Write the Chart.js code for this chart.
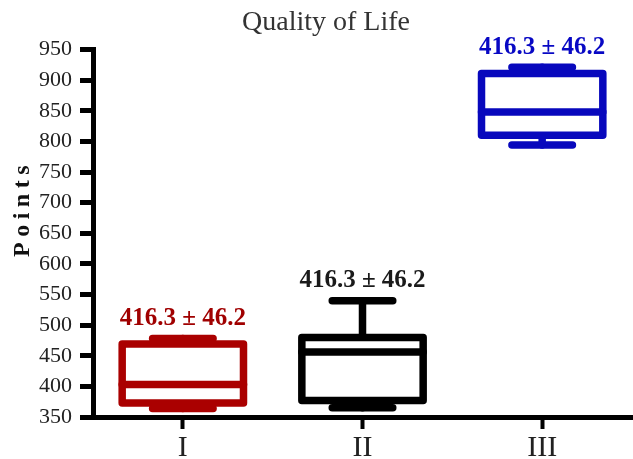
<!DOCTYPE html>
<html>
<head>
<meta charset="utf-8">
<script src="https://cdn.jsdelivr.net/npm/chart.js@4"></script>
<style>
  html, body { margin: 0; padding: 0; background: #ffffff; }
  canvas { display: block; }
</style>
</head>
<body>
<canvas id="chart" width="633" height="459"></canvas>
<script>
// Groups and five-number summaries (points)
const groups = ['I', 'II', 'III'];
const whiskerMin = [364, 365, 794];
const quartile1 = [373, 377, 810];
const medians = [403, 456, 848];
const quartile3 = [469, 480, 911];
const whiskerMax = [478, 540, 921];
const summaryLabels = ['416.3 ± 46.2', '416.3 ± 46.2', '416.3 ± 46.2'];
const boxColors = ['#aa0000', '#000000', '#0808bd'];
const labelColors = ['#a00000', '#1a1a1a', '#0808c4'];

// Value axis range
const yMin = 350;
const yMax = 950;
const yStep = 50;

const SERIF = '"Liberation Serif", "Times New Roman", serif';
const LINE_W = 7.5;

// Draws whiskers, caps, box outline, median and the summary text for each group
const boxPlotPlugin = {
  id: 'boxPlot',
  afterDatasetsDraw(chart) {
    const ctx = chart.ctx;
    const y = chart.scales.y;
    const meta = chart.getDatasetMeta(0);
    ctx.save();
    ctx.lineWidth = LINE_W;
    ctx.lineJoin = 'round';
    ctx.lineCap = 'round';
    meta.data.forEach((bar, i) => {
      const cx = bar.x;
      const w = bar.width;
      const left = cx - w / 2 + LINE_W / 2;
      const right = cx + w / 2 - LINE_W / 2;
      const capHalf = w * 0.264 - LINE_W / 2;
      const pMax = y.getPixelForValue(whiskerMax[i]);
      const pQ3 = y.getPixelForValue(quartile3[i]);
      const pMed = y.getPixelForValue(medians[i]);
      const pQ1 = y.getPixelForValue(quartile1[i]);
      const pMin = y.getPixelForValue(whiskerMin[i]);
      ctx.strokeStyle = boxColors[i];

      // whiskers
      ctx.beginPath();
      ctx.moveTo(cx, pQ3); ctx.lineTo(cx, pMax);
      ctx.moveTo(cx, pQ1); ctx.lineTo(cx, pMin);
      ctx.stroke();

      // caps
      ctx.beginPath();
      ctx.moveTo(cx - capHalf, pMax); ctx.lineTo(cx + capHalf, pMax);
      ctx.moveTo(cx - capHalf, pMin); ctx.lineTo(cx + capHalf, pMin);
      ctx.stroke();

      // box
      ctx.fillStyle = '#ffffff';
      ctx.fillRect(left, pQ3, right - left, pQ1 - pQ3);
      ctx.strokeRect(left, pQ3, right - left, pQ1 - pQ3);

      // median
      ctx.beginPath();
      ctx.moveTo(left, pMed); ctx.lineTo(right, pMed);
      ctx.stroke();

      // summary text above the upper cap
      ctx.font = 'bold 25px ' + SERIF;
      ctx.fillStyle = labelColors[i];
      ctx.textAlign = 'center';
      ctx.textBaseline = 'alphabetic';
      ctx.fillText(summaryLabels[i], cx, pMax - LINE_W / 2 - 10);
    });
    ctx.restore();
  }
};

// Letter-spaced vertical axis title
const axisTitlePlugin = {
  id: 'axisTitle',
  afterDraw(chart) {
    const ctx = chart.ctx;
    const area = chart.chartArea;
    const spacing = 5.5;
    ctx.save();
    ctx.translate(29, (area.top + area.bottom) / 2 - 22);
    ctx.rotate(-Math.PI / 2);
    ctx.font = 'bold 24px ' + SERIF;
    ctx.letterSpacing = spacing + 'px';
    ctx.fillStyle = '#111111';
    ctx.textAlign = 'center';
    ctx.textBaseline = 'alphabetic';
    ctx.fillText('Points', spacing / 2, 0);
    ctx.restore();
  }
};

new Chart(document.getElementById('chart'), {
  type: 'bar',
  data: {
    labels: groups,
    datasets: [{
      label: 'Interquartile range',
      data: groups.map((g, i) => [quartile1[i], quartile3[i]]),
      backgroundColor: 'rgba(0,0,0,0)',
      borderWidth: 0,
      barPercentage: 0.717,
      categoryPercentage: 1
    }]
  },
  options: {
    responsive: false,
    devicePixelRatio: 1,
    animation: false,
    events: [],
    layout: { padding: { left: 20, right: 1, top: 0, bottom: 0 } },
    plugins: {
      legend: { display: false },
      tooltip: { enabled: false },
      title: {
        display: true,
        text: 'Quality of Life',
        color: '#333333',
        font: { family: SERIF, size: 28, weight: 'normal', lineHeight: 1.2 },
        padding: { top: 5.5, bottom: 10.4 }
      }
    },
    scales: {
      x: {
        offset: true,
        grid: {
          offset: false,
          drawOnChartArea: false,
          drawTicks: true,
          tickLength: 12,
          tickWidth: 4,
          tickColor: '#000000'
        },
        border: { display: true, color: '#000000', width: 5 },
        ticks: {
          color: '#222222',
          padding: 1,
          font: { family: SERIF, size: 30 }
        },
        afterFit(scale) { scale.height = 42; }
      },
      y: {
        min: yMin,
        max: yMax,
        grid: {
          drawOnChartArea: false,
          drawTicks: true,
          tickLength: 13,
          tickWidth: 5,
          tickColor: '#000000'
        },
        border: { display: true, color: '#000000', width: 5 },
        ticks: {
          stepSize: yStep,
          color: '#222222',
          padding: 8,
          font: { family: SERIF, size: 22 }
        },
        afterFit(scale) { scale.width = 73; }
      }
    }
  },
  plugins: [boxPlotPlugin, axisTitlePlugin]
});
</script>
</body>
</html>
